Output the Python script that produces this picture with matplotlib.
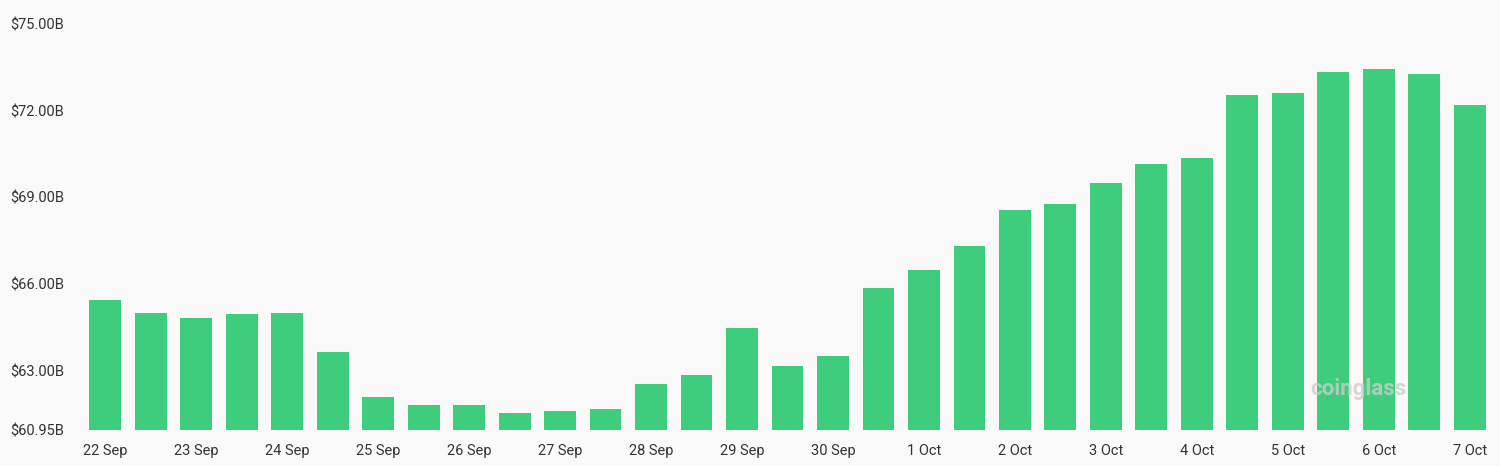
import matplotlib
matplotlib.use("Agg")
import matplotlib.pyplot as plt

plt.rcParams['font.family'] = ['Roboto', 'DejaVu Sans']

values = [65.45, 65.0, 64.83, 64.97, 65.0, 63.65, 62.09, 61.82, 61.82, 61.54, 61.61, 61.68,
          62.54, 62.85, 64.48, 63.17, 63.51, 65.86, 66.49, 67.32, 68.56, 68.77, 69.50, 70.16,
          70.36, 72.54, 72.61, 73.34, 73.44, 73.27, 72.20]
tick_labels = ["22 Sep", "23 Sep", "24 Sep", "25 Sep", "26 Sep", "27 Sep", "28 Sep", "29 Sep",
               "30 Sep", "1 Oct", "2 Oct", "3 Oct", "4 Oct", "5 Oct", "6 Oct", "7 Oct"]
y_ticks = [60.95, 63.0, 66.0, 69.0, 72.0, 75.0]

bg = "#f9f9f9"
fig = plt.figure(figsize=(15, 4.66), dpi=100, facecolor=bg)
ax = fig.add_axes([0.055, 0.077, 0.94, 0.872], facecolor=bg)
x = list(range(len(values)))
ax.bar(x, values, width=0.7, color="#3ecd7c", bottom=0)
ax.set_ylim(60.95, 75.0)
ax.set_xlim(-0.5, len(values) - 0.5)
ax.set_xticks(x[::2])
ax.set_xticklabels(tick_labels)
ax.set_yticks(y_ticks)
ax.set_yticklabels([f"${v:.2f}B" for v in y_ticks])
for s in ax.spines.values():
    s.set_visible(False)
ax.tick_params(length=0, labelsize=10.5, colors="#333333")
for lbl in ax.get_yticklabels():
    lbl.set_horizontalalignment("left")
ax.tick_params(axis="y", pad=52)
ax.tick_params(axis="x", pad=10)
ax.text(0.905, 0.1, "coinglass", transform=ax.transAxes, fontsize=16, color="#cccccc",
        alpha=0.8, ha="center", va="center", fontweight="bold")
fig.savefig("out.png", dpi=100, facecolor=bg)
